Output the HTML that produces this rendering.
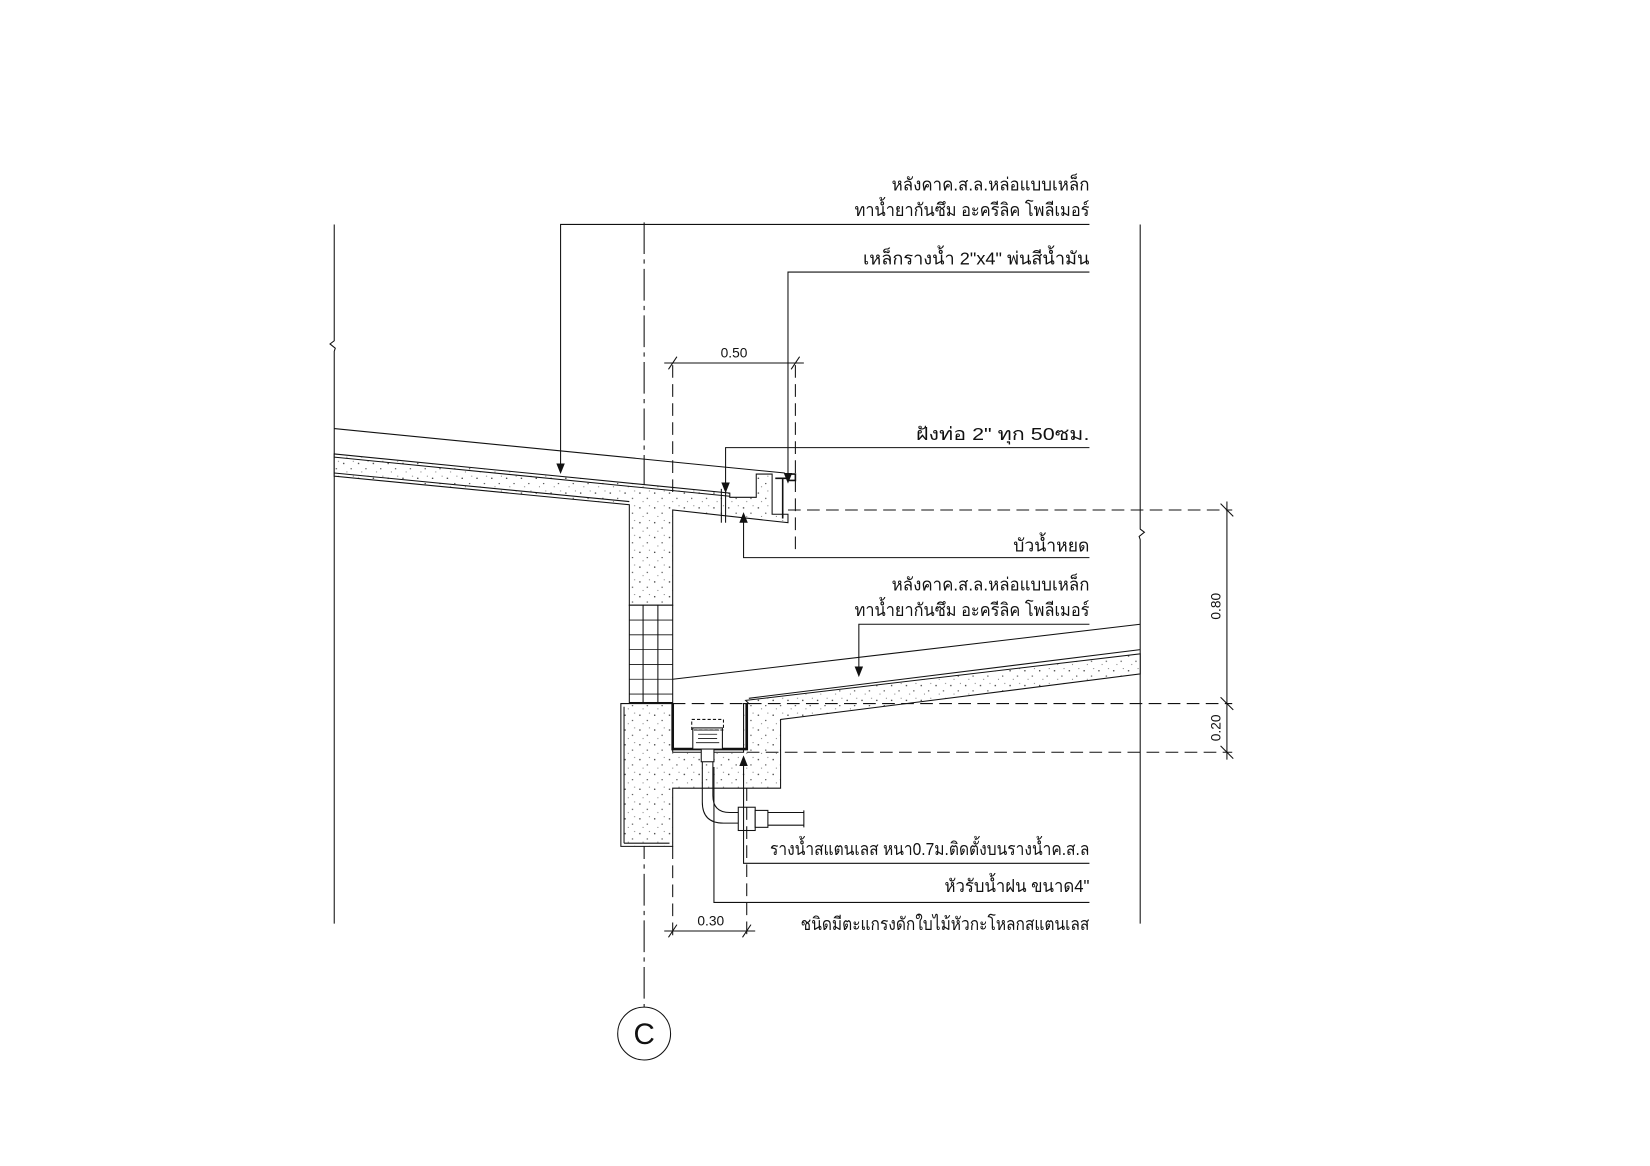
<!DOCTYPE html>
<html><head><meta charset="utf-8"><style>
html,body{margin:0;padding:0;background:#fff}
svg{display:block}
text{font-family:"Liberation Sans","DejaVu Sans",sans-serif;fill:#111}
</style></head><body>
<svg width="1650" height="1166" viewBox="0 0 1560 1102" xmlns="http://www.w3.org/2000/svg">
<defs>
<pattern id="conc" width="14" height="14" patternUnits="userSpaceOnUse">
<rect width="14" height="14" fill="#fff"/>
<circle cx="3" cy="4" r="0.7" fill="#333"/><circle cx="10" cy="9" r="0.6" fill="#333"/><circle cx="6" cy="12" r="0.5" fill="#555"/><circle cx="12" cy="2" r="0.5" fill="#555"/>
</pattern>
</defs>
<g stroke="#111" stroke-width="1" fill="none">
<path d="M316,212 V322 l-4,3 l5,4 l-1,3 V873"/>
<path d="M1078,212 V500 l4,3 l-5,4 l1,3 V873"/>
<line x1="609" y1="210" x2="609" y2="952" stroke-dasharray="30,5,4,5"/>
<circle cx="609" cy="977" r="25"/>
<line x1="316" y1="405" x2="742" y2="447"/>
<path d="M316,429 L690,466 L690,470 L715,470 L715,448 L730,448 L730,486 L745,486 L745,494 L636,482 L636,572 L595,572 L595,477 L316,450 Z" fill="url(#conc)"/>
<line x1="316" y1="432" x2="690" y2="469"/>
<line x1="316" y1="447" x2="595" y2="474"/>
<path d="M733,452 H746 M740,452 V490 M746,448 H752 V454 H746" stroke-width="1.5"/>
<line x1="682" y1="462" x2="682" y2="494"/><line x1="686" y1="462" x2="686" y2="494"/>
<rect x="595" y="572" width="41" height="92" fill="#fff"/>
<line x1="608" y1="572" x2="608" y2="664"/><line x1="622" y1="572" x2="622" y2="664"/>
<g stroke-width="0.8">
<line x1="595" y1="586" x2="636" y2="586"/><line x1="595" y1="600" x2="636" y2="600"/><line x1="595" y1="614" x2="636" y2="614"/><line x1="595" y1="628" x2="636" y2="628"/><line x1="595" y1="642" x2="636" y2="642"/><line x1="595" y1="656" x2="636" y2="656"/>
</g>
<path d="M587,665 H636 V711 H703 V665 H708 L705,662 L1078,618 V637 L738,680 V745 H636 V800 H587 Z" fill="url(#conc)"/>
<line x1="590" y1="668" x2="590" y2="797"/>
<line x1="590" y1="797" x2="633" y2="797"/>
<line x1="708" y1="660" x2="1078" y2="614"/>
<line x1="636" y1="642" x2="1078" y2="590"/>
<path d="M636,665 V708 H706 V665" stroke-width="2.5"/>
<rect x="655" y="688" width="28" height="20" fill="#fff"/>
<path d="M658,690 h22 M660,694 h18 M660,698 h18 M658,702 h22" stroke-width="0.8"/>
<rect x="654" y="680" width="30" height="10" stroke-dasharray="3,2"/>
<rect x="663" y="708" width="12" height="12" fill="#fff"/>
<path d="M664,720 V758 Q664,778 684,778 H698" />
<path d="M674,720 V752 Q674,768 690,768 H698" />
<rect x="698" y="763" width="16" height="22" fill="#fff"/>
<rect x="714" y="766" width="12" height="16" fill="#fff"/>
<path d="M726,768 H760 M726,780 H760 M760,766 V782"/>
<g stroke-dasharray="12,6">
<line x1="745" y1="482" x2="1165" y2="482"/>
<line x1="636" y1="665" x2="1165" y2="665"/>
<line x1="706" y1="711" x2="1165" y2="711"/>
<line x1="636" y1="345" x2="636" y2="465"/>
<line x1="752" y1="345" x2="752" y2="520"/>
<line x1="636" y1="800" x2="636" y2="885"/>
<line x1="706" y1="745" x2="706" y2="885"/>
</g>
<line x1="628" y1="343" x2="760" y2="343"/>
<path d="M632,349 l8,-12 M748,349 l8,-12"/>
<line x1="628" y1="880" x2="714" y2="880"/>
<path d="M632,886 l8,-12 M702,886 l8,-12"/>
<line x1="1160" y1="474" x2="1160" y2="718"/>
<path d="M1154,476 l12,12 M1154,659 l12,12 M1154,705 l12,12"/>
<path d="M1030,212 H530 V440"/>
<path d="M1030,257 H745 V450"/>
<path d="M1030,423 H686 V460"/>
<path d="M1030,527 H703 V492"/>
<path d="M1030,590 H812 V632"/>
<path d="M1030,816 H703 V722"/>
<path d="M1030,853 H675 V725"/>
</g>
<g fill="#111">
<path d="M526,438 L530,448 L534,438 Z"/>
<path d="M741,447 L745,457 L749,447 Z"/>
<path d="M682,456 L686,466 L690,456 Z"/>
<path d="M699,494 L703,484 L707,494 Z"/>
<path d="M808,630 L812,640 L816,630 Z"/>
<path d="M699,724 L703,714 L707,724 Z"/>
</g>
<g font-size="17" text-anchor="end">
<text x="1030" y="180" textLength="187" lengthAdjust="spacingAndGlyphs">หลังคาค.ส.ล.หล่อแบบเหล็ก</text>
<text x="1030" y="204" textLength="222" lengthAdjust="spacingAndGlyphs">ทาน้ำยากันซึม อะครีลิค โพลีเมอร์</text>
<text x="1030" y="250" textLength="214" lengthAdjust="spacingAndGlyphs">เหล็กรางน้ำ 2"x4"  พ่นสีน้ำมัน</text>
<text x="1030" y="416" textLength="164" lengthAdjust="spacingAndGlyphs">ฝังท่อ 2"  ทุก 50ซม.</text>
<text x="1030" y="521" textLength="72" lengthAdjust="spacingAndGlyphs">บัวน้ำหยด</text>
<text x="1030" y="558" textLength="187" lengthAdjust="spacingAndGlyphs">หลังคาค.ส.ล.หล่อแบบเหล็ก</text>
<text x="1030" y="582" textLength="222" lengthAdjust="spacingAndGlyphs">ทาน้ำยากันซึม อะครีลิค โพลีเมอร์</text>
<text x="1030" y="808" textLength="302" lengthAdjust="spacingAndGlyphs">รางน้ำสแตนเลส หนา0.7ม.ติดตั้งบนรางน้ำค.ส.ล</text>
<text x="1030" y="843" textLength="137" lengthAdjust="spacingAndGlyphs">หัวรับน้ำฝน ขนาด4"</text>
<text x="1030" y="879" textLength="273" lengthAdjust="spacingAndGlyphs">ชนิดมีตะแกรงดักใบไม้หัวกะโหลกสแตนเลส</text>
</g>
<g font-size="13" text-anchor="middle">
<text x="694" y="338">0.50</text>
<text x="672" y="875">0.30</text>
<text transform="translate(1154,573) rotate(-90)">0.80</text>
<text transform="translate(1154,688) rotate(-90)">0.20</text>
</g>
<text x="609" y="987" font-size="28" text-anchor="middle">C</text>
</svg>
</body></html>
